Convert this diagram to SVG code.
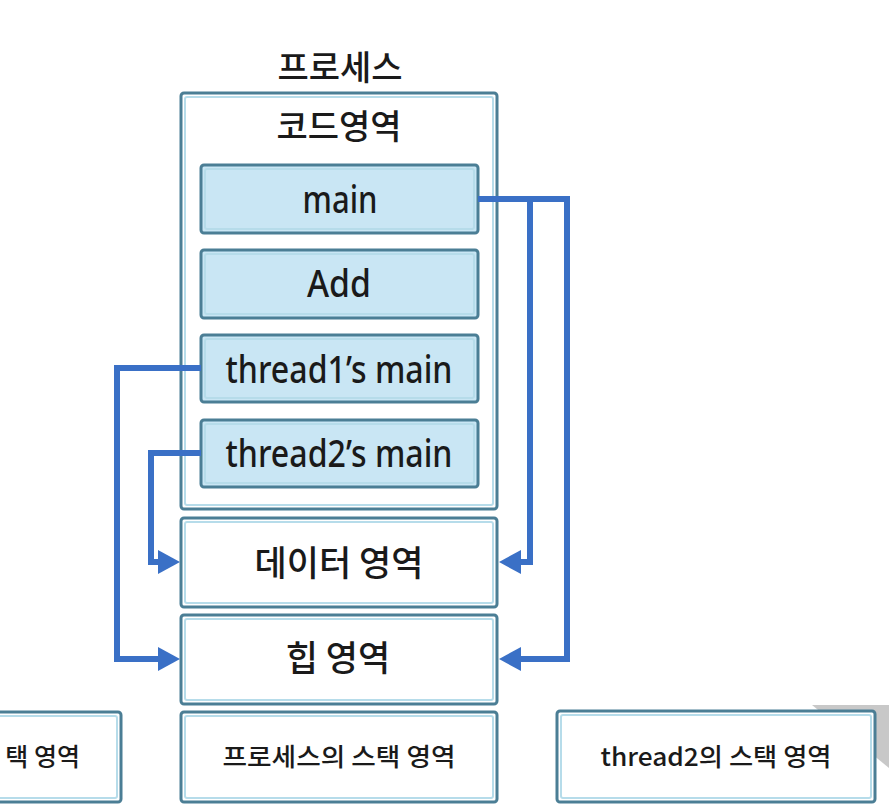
<svg xmlns="http://www.w3.org/2000/svg" width="889" height="811" viewBox="0 0 889 811">
  <defs>
    <style>
      .box { fill: #ffffff; stroke: #4b7e95; stroke-width: 3; }
      .fn { fill: #c9e6f4; stroke: #4b7e95; stroke-width: 3; }
      .inner { fill: none; stroke: #b6dcea; stroke-width: 2; }
      .ko { font-family: "Noto Sans CJK KR", "Noto Sans", sans-serif; font-weight: 500; fill: #1a1a1a; text-anchor: middle; }
      .lat { font-family: "Noto Sans", "Noto Sans CJK KR", sans-serif; font-weight: 500; fill: #1a1a1a; text-anchor: middle; }
      .wire { fill: none; stroke: #3a70c6; stroke-width: 6; stroke-linejoin: miter; }
    </style>
    <marker id="arr" viewBox="0 0 22 24" refX="1" refY="12" markerWidth="22" markerHeight="24" markerUnits="userSpaceOnUse" orient="auto">
      <path d="M0,0 L22,12 L0,24 z" fill="#3a70c6"/>
    </marker>
  </defs>

  <rect width="889" height="811" fill="#ffffff"/>
  <polygon points="812,705 889,705 889,768" fill="#9a9a9a" opacity="0.55"/>

  <text class="ko" x="340" y="80" font-size="34">프로세스</text>

  <g id="code-area">
    <rect class="box" x="181" y="93" width="316" height="416" rx="3"/>
    <rect class="inner" x="185" y="97" width="308" height="408" rx="2"/>
    <text class="ko" x="339" y="139" font-size="34">코드영역</text>
  </g>

  <g id="main">
    <rect class="fn" x="201" y="165" width="277" height="68" rx="3"/>
    <rect class="inner" x="205" y="169" width="269" height="60" rx="2"/>
    <text class="lat" x="340" y="213" font-size="38" textLength="75" lengthAdjust="spacingAndGlyphs">main</text>
  </g>

  <g id="add">
    <rect class="fn" x="201" y="250" width="277" height="68" rx="3"/>
    <rect class="inner" x="205" y="254" width="269" height="60" rx="2"/>
    <text class="lat" x="339" y="297" font-size="38" textLength="64" lengthAdjust="spacingAndGlyphs">Add</text>
  </g>

  <g id="thread1-main">
    <rect class="fn" x="201" y="335" width="277" height="67" rx="3"/>
    <rect class="inner" x="205" y="339" width="269" height="59" rx="2"/>
    <text class="lat" x="339" y="383" font-size="38" textLength="227" lengthAdjust="spacingAndGlyphs">thread1’s main</text>
  </g>

  <g id="thread2-main">
    <rect class="fn" x="201" y="420" width="277" height="67" rx="3"/>
    <rect class="inner" x="205" y="424" width="269" height="59" rx="2"/>
    <text class="lat" x="339" y="467" font-size="38" textLength="227" lengthAdjust="spacingAndGlyphs">thread2’s main</text>
  </g>

  <g id="data-area">
    <rect class="box" x="181" y="518" width="316" height="89" rx="3"/>
    <rect class="inner" x="185" y="522" width="308" height="81" rx="2"/>
    <text class="ko" x="339" y="576" font-size="35">데이터 영역</text>
  </g>

  <g id="heap-area">
    <rect class="box" x="181" y="615" width="316" height="89" rx="3"/>
    <rect class="inner" x="185" y="619" width="308" height="81" rx="2"/>
    <text class="ko" x="338" y="671" font-size="35">힙 영역</text>
  </g>

  <g id="thread1-stack">
    <rect class="box" x="-20" y="712" width="141" height="90" rx="3"/>
    <rect class="inner" x="-16" y="716" width="133" height="82" rx="2"/>
    <text class="ko" x="80" y="766" font-size="25" style="text-anchor:end">택 영역</text>
  </g>

  <g id="process-stack">
    <rect class="box" x="181" y="712" width="316" height="90" rx="3"/>
    <rect class="inner" x="185" y="716" width="308" height="82" rx="2"/>
    <text class="ko" x="339" y="766" font-size="25" textLength="233" lengthAdjust="spacingAndGlyphs">프로세스의 스택 영역</text>
  </g>

  <g id="thread2-stack">
    <rect class="box" x="557" y="711" width="318" height="91" rx="3"/>
    <rect class="inner" x="561" y="715" width="310" height="83" rx="2"/>
    <text class="ko" x="716" y="766" font-size="25" textLength="231" lengthAdjust="spacingAndGlyphs">thread2의 스택 영역</text>
  </g>

  <g id="connectors">
    <path class="wire" d="M478,199 H567 V659 H520" marker-end="url(#arr)"/>
    <path class="wire" d="M530,199 V562 H520" marker-end="url(#arr)"/>
    <path class="wire" d="M201,368 H117 V659 H159" marker-end="url(#arr)"/>
    <path class="wire" d="M201,453 H151 V562 H159" marker-end="url(#arr)"/>
  </g>
</svg>
